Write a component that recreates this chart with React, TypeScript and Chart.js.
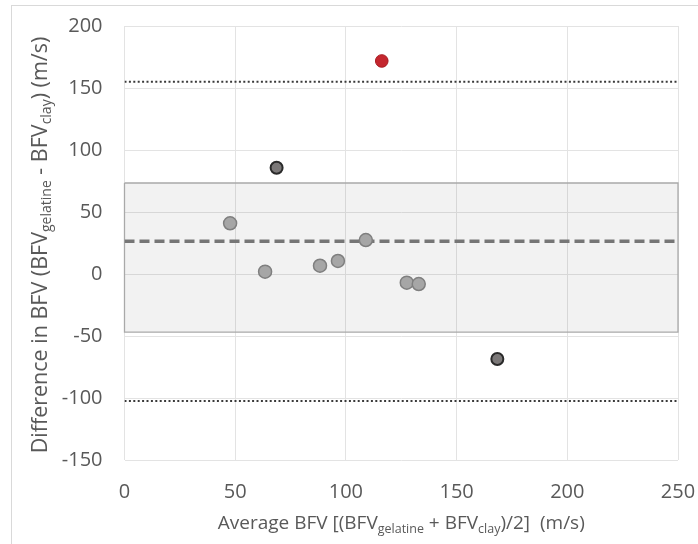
import React, { useEffect, useRef } from "react";
import { Chart, registerables } from "chart.js";

Chart.register(...registerables);

// ---- data ----
const avgGray = [47.7, 63.5, 88.3, 96.4, 109.0, 127.5, 132.9];
const diffGray = [40.9, 1.9, 6.7, 10.5, 27.4, -7.0, -8.1];
const avgDark = [68.7, 168.4];
const diffDark = [85.7, -68.5];
const avgRed = [116.2];
const diffRed = [171.8];

const meanDiff = 26.5;
const upperLoA = 155;
const lowerLoA = -102.4;
const bandTop = 73.4;
const bandBottom = -46.8;

const xMin = 0;
const xMax = 250;
const yMin = -150;
const yMax = 200;
const tickStep = 50;

const xTitleRuns = [
  { t: "Average BFV [(BFV", sub: false },
  { t: "gelatine", sub: true },
  { t: " + BFV", sub: false },
  { t: "clay", sub: true },
  { t: ")/2]  (m/s)", sub: false },
];
const yTitleRuns = [
  { t: "Difference in BFV (BFV", sub: false },
  { t: "gelatine", sub: true },
  { t: " - BFV", sub: false },
  { t: "clay", sub: true },
  { t: ") (m/s)", sub: false },
];

const FONT = '"Open Sans", "Noto Sans", sans-serif';
const TEXT = "#595959";

function drawRich(
  ctx: CanvasRenderingContext2D,
  runs: { t: string; sub: boolean }[],
  cx: number,
  cy: number,
  rotate: boolean,
  mainSize: number,
  subSize: number,
  subDrop: number
) {
  ctx.save();
  ctx.translate(cx, cy);
  if (rotate) ctx.rotate(-Math.PI / 2);
  const widths: number[] = [];
  let total = 0;
  runs.forEach((r) => {
    ctx.font = `${r.sub ? subSize : mainSize}px ${FONT}`;
    const w = ctx.measureText(r.t).width;
    widths.push(w);
    total += w;
  });
  let x = -total / 2;
  ctx.fillStyle = TEXT;
  ctx.textAlign = "left";
  ctx.textBaseline = "middle";
  runs.forEach((r, i) => {
    ctx.font = `${r.sub ? subSize : mainSize}px ${FONT}`;
    ctx.fillText(r.t, x, r.sub ? subDrop : 0);
    x += widths[i];
  });
  ctx.restore();
}

const framePlugin = {
  id: "frame",
  beforeDraw(chart: any) {
    const ctx = chart.ctx;
    ctx.save();
    ctx.fillStyle = "#ffffff";
    ctx.fillRect(0, 0, chart.width, chart.height);
    ctx.strokeStyle = "#d9d9d9";
    ctx.lineWidth = 1;
    ctx.strokeRect(11.5, 5.5, chart.width + 20, chart.height + 20);
    ctx.restore();
  },
};

const titlesPlugin = {
  id: "richTitles",
  afterDraw(chart: any) {
    const ctx = chart.ctx;
    const a = chart.chartArea;
    drawRich(ctx, xTitleRuns, (a.left + a.right) / 2, a.bottom + 64, false, 19, 12.5, 5.5);
    drawRich(ctx, yTitleRuns, 41, (a.top + a.bottom) / 2 + 2, true, 21.5, 14, 6.5);
  },
};

const noOverflow = (s: any) => {
  s.paddingTop = 0;
  s.paddingBottom = 0;
  s.paddingLeft = 0;
  s.paddingRight = 0;
};

export default function App() {
  const ref = useRef<HTMLCanvasElement>(null);

  useEffect(() => {
    if (!ref.current) return;
    const pts = (xs: number[], ys: number[]) => xs.map((x, i) => ({ x, y: ys[i] }));
    const hline = (y: number) => [
      { x: xMin, y },
      { x: xMax, y },
    ];

    const chart = new Chart(ref.current, {
      type: "scatter",
      data: {
        datasets: [
          {
            label: "red",
            data: pts(avgRed, diffRed),
            backgroundColor: "#c4262e",
            borderColor: "#a81c23",
            borderWidth: 1,
            pointRadius: 6.3,
            order: 1,
          },
          {
            label: "dark",
            data: pts(avgDark, diffDark),
            backgroundColor: "#7b7878",
            borderColor: "#2a2a2a",
            borderWidth: 2,
            pointRadius: 6,
            order: 1,
          },
          {
            label: "gray",
            data: pts(avgGray, diffGray),
            backgroundColor: "#a6a6a6",
            borderColor: "#7f7f7f",
            borderWidth: 1.5,
            pointRadius: 6.5,
            order: 1,
          },
          {
            label: "mean",
            data: hline(meanDiff),
            showLine: true,
            pointRadius: 0,
            borderColor: "#767676",
            borderWidth: 3.5,
            borderDash: [10, 5],
            order: 5,
          },
          {
            label: "upper",
            data: hline(upperLoA),
            showLine: true,
            pointRadius: 0,
            borderColor: "#3a3a3a",
            borderWidth: 2,
            borderDash: [2, 2.4],
            order: 5,
          },
          {
            label: "lower",
            data: hline(lowerLoA),
            showLine: true,
            pointRadius: 0,
            borderColor: "#3a3a3a",
            borderWidth: 2,
            borderDash: [2, 2.4],
            order: 5,
          },
          {
            label: "band",
            data: [
              { x: xMin, y: bandTop },
              { x: xMax, y: bandTop },
              { x: xMax, y: bandBottom },
              { x: xMin, y: bandBottom },
              { x: xMin, y: bandTop },
            ],
            showLine: true,
            pointRadius: 0,
            fill: "shape",
            backgroundColor: "rgba(0,0,0,0.05)",
            borderColor: "#a9a9a9",
            borderWidth: 1.3,
            order: 10,
            clip: 3,
          } as any,
        ],
      },
      options: {
        responsive: false,
        animation: false,
        layout: { padding: { top: 26, right: 20, left: 0, bottom: 0 } },
        plugins: {
          legend: { display: false },
          tooltip: { enabled: false },
          title: { display: false },
        },
        scales: {
          x: {
            type: "linear",
            min: xMin,
            max: xMax,
            ticks: {
              stepSize: tickStep,
              color: TEXT,
              font: { family: FONT, size: 20 },
              padding: 20,
              maxRotation: 0,
            },
            grid: { color: "#e3e3e3", drawTicks: false, lineWidth: 1 },
            border: { display: false },
            afterFit: (s: any) => {
              s.height = 84;
              noOverflow(s);
            },
          },
          y: {
            type: "linear",
            min: yMin,
            max: yMax,
            ticks: {
              stepSize: tickStep,
              color: TEXT,
              font: { family: FONT, size: 20 },
              padding: 22,
            },
            grid: { color: "#e3e3e3", drawTicks: false, lineWidth: 1 },
            border: { display: false },
            afterFit: (s: any) => {
              s.width = 124.5;
              noOverflow(s);
            },
          },
        },
      },
      plugins: [framePlugin, titlesPlugin],
    });
    return () => chart.destroy();
  }, []);

  return (
    <div style={{ position: "absolute", left: 0, top: 0, width: 698, height: 544 }}>
      <canvas ref={ref} width={698} height={544} style={{ display: "block" }} />
    </div>
  );
}
